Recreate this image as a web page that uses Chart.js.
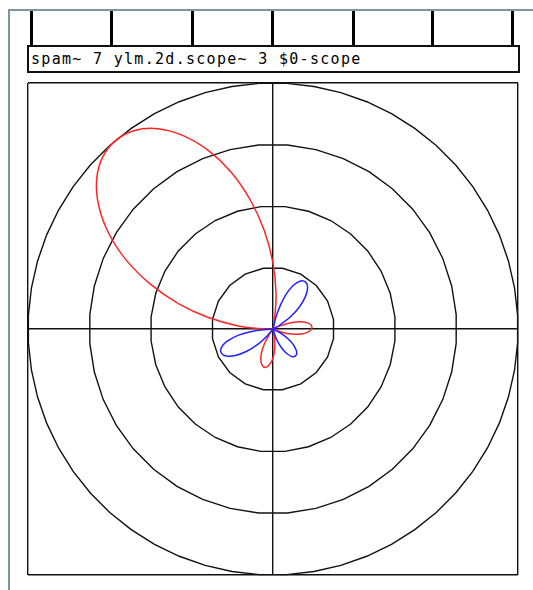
<!DOCTYPE html>
<html>
<head>
<meta charset="utf-8">
<script src="https://cdn.jsdelivr.net/npm/chart.js@4"></script>
<style>
  html, body { margin: 0; padding: 0; background: #fff; }
  #patch { position: relative; width: 533px; height: 590px; overflow: hidden; }
  .frame-left { position: absolute; left: 8px; top: 9px; width: 2px; height: 581px; background: #7b979d; }
  .frame-top { position: absolute; left: 8px; top: 9px; width: 525px; height: 2px; background: #7b979d; }
  .cord { position: absolute; top: 11px; width: 3px; height: 35px; background: #000; }
  .inlet { position: absolute; top: 45px; width: 11px; height: 4px; background: #000; }
  .obj {
    position: absolute; left: 27px; top: 45px; width: 493px; height: 28px;
    box-sizing: border-box; border: 2px solid #111; background: #fff;
    font-family: "DejaVu Sans Mono", monospace; font-size: 15px; letter-spacing: 1.3px;
    line-height: 24px; padding-left: 2px; color: #000; white-space: pre;
  }
  #scope { position: absolute; left: 0; top: 0; }
</style>
</head>
<body>
<div id="patch">
  <div class="frame-top"></div>
  <div class="frame-left"></div>
  <div id="cords"></div>
  <div class="obj">spam~ 7 ylm.2d.scope~ 3 $0-scope</div>
  <canvas id="scope" width="533" height="590"></canvas>
</div>
<script>
// directions (degrees, counter-clockwise from the right) and the signed
// gain the 3rd order 2D pattern has in each direction
const angles = [
  0, 5, 10, 15, 20, 25, 30, 35, 40, 45, 50, 55,
  60, 65, 70, 75, 80, 85, 90, 95, 100, 105, 110, 115,
  120, 125, 130, 135, 140, 145, 150, 155, 160, 165, 170, 175,
  180, 185, 190, 195, 200, 205, 210, 215, 220, 225, 230, 235,
  240, 245, 250, 255, 260, 265, 270, 275, 280, 285, 290, 295,
  300, 305, 310, 315, 320, 325, 330, 335, 340, 345, 350, 355
];
const gain = [
  0.63, 0.63, 0.57, 0.46, 0.29, 0.09, -0.13, -0.36, -0.57, -0.75, -0.88, -0.93,
  -0.90, -0.78, -0.57, -0.27, 0.12, 0.57, 1.07, 1.60, 2.13, 2.64, 3.09, 3.47,
  3.76, 3.94, 4.00, 3.94, 3.76, 3.47, 3.09, 2.64, 2.13, 1.60, 1.07, 0.57,
  0.12, -0.27, -0.57, -0.78, -0.90, -0.93, -0.88, -0.75, -0.57, -0.36, -0.13, 0.09,
  0.29, 0.46, 0.57, 0.63, 0.63, 0.57, 0.47, 0.32, 0.15, -0.03, -0.20, -0.35,
  -0.47, -0.55, -0.57, -0.55, -0.47, -0.35, -0.20, -0.03, 0.15, 0.32, 0.47, 0.57
];
// reference rings and how many sides each one is drawn with
const rings = [1, 2, 3, 4];
const ringSides = [20, 32, 40, 56];
// x positions of the patch cords going into the object
const cordX = [30, 110, 191, 271, 352, 431, 511];

const cords = document.getElementById('cords');
cordX.forEach(cx => {
  const c = document.createElement('div');
  c.className = 'cord';
  c.style.left = cx + 'px';
  cords.appendChild(c);
  const n = document.createElement('div');
  n.className = 'inlet';
  n.style.left = Math.min(cx - 3, 509) + 'px';
  cords.appendChild(n);
});

// positive lobes are red, negative lobes blue
const redLobes = gain.map(g => Math.max(g, 0));
const blueLobes = gain.map(g => Math.max(-g, 0));

function trace(values) {
  const pts = values.map((r, i) => {
    const a = angles[i] * Math.PI / 180;
    return { x: r * Math.cos(a), y: r * Math.sin(a) };
  });
  // start at the centre so the closed loop has no seam on a lobe
  const start = values.findIndex(v => v === 0);
  return pts.slice(start).concat(pts.slice(0, start + 1));
}

const ringPlugin = {
  id: 'rings',
  beforeDatasetsDraw(chart) {
    const { ctx, scales: { x, y } } = chart;
    ctx.save();
    ctx.strokeStyle = '#111';
    ctx.lineWidth = 1.4;
    rings.forEach((r, i) => {
      const n = ringSides[i];
      ctx.beginPath();
      for (let k = 0; k <= n; k++) {
        const a = (k + 0.5) * 2 * Math.PI / n;
        const px = x.getPixelForValue(r * Math.cos(a));
        const py = y.getPixelForValue(r * Math.sin(a));
        if (k === 0) ctx.moveTo(px, py); else ctx.lineTo(px, py);
      }
      ctx.closePath();
      ctx.stroke();
    });
    ctx.restore();
  }
};

const axis = {
  type: 'linear',
  min: -4,
  max: 4,
  ticks: { display: false, stepSize: 4 },
  grid: { color: '#111', lineWidth: 1.4, drawTicks: false },
  border: { display: false }
};

new Chart(document.getElementById('scope'), {
  type: 'scatter',
  data: {
    datasets: [
      { data: trace(blueLobes), borderColor: '#2323ff', borderWidth: 1.5, showLine: true, pointRadius: 0, tension: 0.4 },
      { data: trace(redLobes), borderColor: '#ff2424', borderWidth: 1.5, showLine: true, pointRadius: 0, tension: 0.4 }
    ]
  },
  options: {
    responsive: false,
    animation: false,
    layout: { padding: { left: 28, top: 83, right: 15, bottom: 15 } },
    plugins: { legend: { display: false }, tooltip: { enabled: false } },
    scales: { x: axis, y: axis }
  },
  plugins: [ringPlugin]
});
</script>
</body>
</html>
